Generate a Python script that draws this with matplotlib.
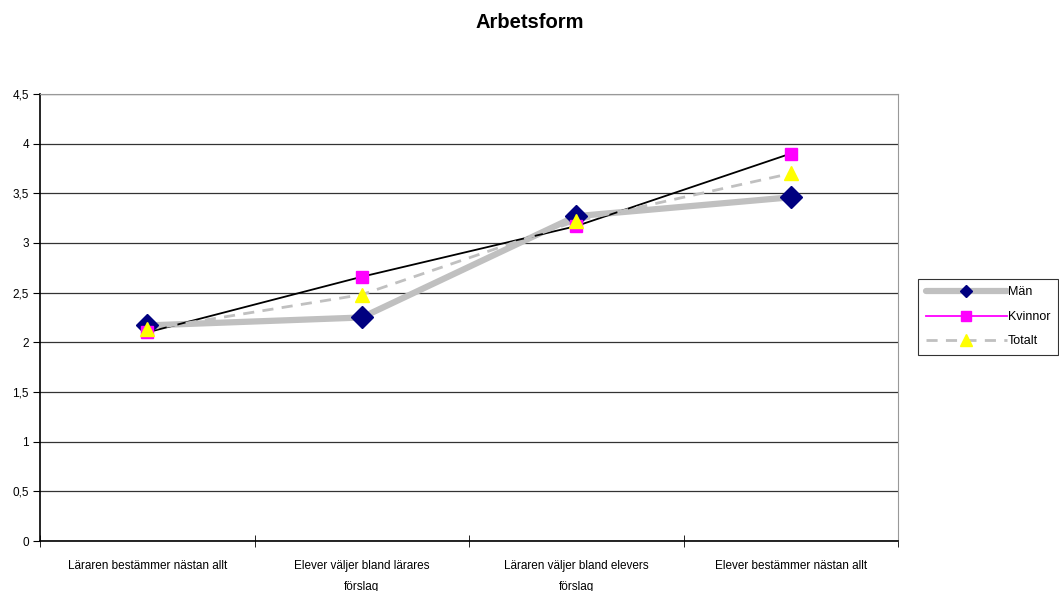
import matplotlib
matplotlib.use("Agg")
import matplotlib.pyplot as plt
from matplotlib.lines import Line2D
import numpy as np

categories = ["Läraren bestämmer nästan allt",
              "Elever väljer bland lärares\nförslag",
              "Läraren väljer bland elevers\nförslag",
              "Elever bestämmer nästan allt"]
man = [2.17, 2.25, 3.27, 3.46]
kvinnor = [2.10, 2.66, 3.17, 3.90]
totalt = [2.13, 2.48, 3.22, 3.70]
yticks = [0, 0.5, 1, 1.5, 2, 2.5, 3, 3.5, 4, 4.5]
ytick_labels = ["0", "0,5", "1", "1,5", "2", "2,5", "3", "3,5", "4", "4,5"]

plt.rcParams['font.family'] = ['Liberation Sans', 'DejaVu Sans']

fig = plt.figure(figsize=(10.59, 5.91), dpi=100)
ax = fig.add_axes([0.0378, 0.0846, 0.8102, 0.7564])

x = np.arange(len(categories))

# linjer
ax.plot(x, man, color='#C0C0C0', lw=4.5, solid_capstyle='round', zorder=3)
ax.plot(x, kvinnor, color='black', lw=1.3, zorder=4)
ax.plot(x, totalt, color='#C0C0C0', lw=2, ls=(0, (4, 3)), zorder=5)

# markörer
ax.plot(x, man, ls='none', marker='D', ms=11, color='#000080', zorder=6)
ax.plot(x, kvinnor, ls='none', marker='s', ms=9, color='#FF00FF', zorder=7)
ax.plot(x, totalt, ls='none', marker='^', ms=10, color='#FFFF00', zorder=8)

ax.set_xlim(-0.5, 3.5)
ax.set_ylim(0, 4.5)
ax.set_yticks(yticks)
ax.set_yticklabels(ytick_labels, fontsize=8.5)
ax.yaxis.grid(True, color='#333333', lw=0.9)
ax.set_axisbelow(True)

ax.set_xticks(x)
ax.set_xticklabels(categories, fontsize=8.5, linespacing=1.9)
ax.set_xticks(np.arange(-0.5, 4.0, 1.0), minor=True)
ax.tick_params(axis='x', which='major', length=0, pad=14)
ax.tick_params(axis='x', which='minor', length=8, direction='inout', color='black')
ax.tick_params(axis='y', length=5, direction='out', color='black', pad=3)

for s in ['top', 'right']:
    ax.spines[s].set_color('#999999')
for s in ['left', 'bottom']:
    ax.spines[s].set_color('black')
    ax.spines[s].set_linewidth(1.2)

fig.text(0.5, 0.962, "Arbetsform", ha='center', va='center', fontsize=14.5, fontweight='bold')

handles = [
    Line2D([], [], color='#C0C0C0', lw=4.5, marker='D', ms=6, mfc='#000080', mec='#000080', solid_capstyle='round'),
    Line2D([], [], color='#FF00FF', lw=1.3, marker='s', ms=7, mfc='#FF00FF', mec='#FF00FF'),
    Line2D([], [], color='#C0C0C0', lw=2, ls=(0, (4, 3)), marker='^', ms=8, mfc='#FFFF00', mec='#FFFF00'),
]
leg = fig.legend(handles, ["Män", "Kvinnor", "Totalt"], loc='upper left',
                 bbox_to_anchor=(0.867, 0.528), fontsize=9, frameon=True,
                 fancybox=False, edgecolor='black', handlelength=6.5,
                 handletextpad=0.1, borderpad=0.6, labelspacing=1.0, borderaxespad=0)
leg.get_frame().set_linewidth(0.8)

fig.savefig("out.png", dpi=100)
